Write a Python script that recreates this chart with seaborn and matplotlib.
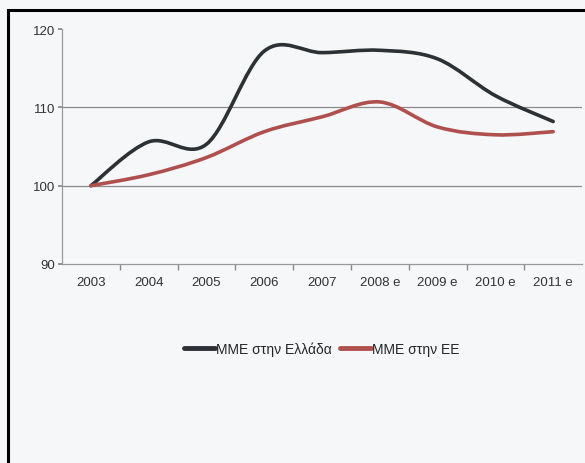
import matplotlib
matplotlib.use("Agg")
import matplotlib.pyplot as plt
import seaborn as sns
import pandas as pd
import numpy as np
from matplotlib.patches import Rectangle, PathPatch
from matplotlib.path import Path
from matplotlib.lines import Line2D

years = ["2003", "2004", "2005", "2006", "2007", "2008 e", "2009 e", "2010 e", "2011 e"]
greece = [100, 105.6, 105.3, 117.2, 117.0, 117.3, 116.2, 111.5, 108.2]
eu = [100, 101.4, 103.6, 106.9, 108.8, 110.7, 107.5, 106.5, 106.9]
series_names = ["ΜΜΕ στην Ελλάδα", "ΜΜΕ στην ΕΕ"]
colors = ["#2c3136", "#b0504e"]
yticks = [90, 100, 110, 120]

sns.set_theme(style="white")
plt.rcParams["font.family"] = ["Liberation Sans Narrow", "Liberation Sans", "DejaVu Sans"]

df = pd.DataFrame({
    "x": list(range(len(years))) * 2,
    "value": greece + eu,
    "series": [series_names[0]] * len(years) + [series_names[1]] * len(years),
})

bg = "#f6f7f9"
fig = plt.figure(figsize=(5.85, 4.64), dpi=100, facecolor=bg)
ax = fig.add_axes([0.106, 0.429, 0.889, 0.506])
ax.set_facecolor(bg)

sns.lineplot(data=df, x="x", y="value", hue="series",
             palette=colors, linewidth=2.4, ax=ax, legend=False)


def smooth_path(xy):
    # Excel-style smoothed line: Catmull-Rom converted to cubic Bezier segments
    pts = np.asarray(xy, dtype=float)
    verts = [pts[0]]
    codes = [Path.MOVETO]
    n = len(pts)
    for i in range(n - 1):
        p0 = pts[i - 1] if i > 0 else pts[i]
        p1 = pts[i]
        p2 = pts[i + 1]
        p3 = pts[i + 2] if i + 2 < n else pts[i + 1]
        c1 = p1 + (p2 - p0) / 6.0
        c2 = p2 - (p3 - p1) / 6.0
        verts += [c1, c2, p2]
        codes += [Path.CURVE4] * 3
    return Path(verts, codes)


for line in list(ax.get_lines()):
    xy = line.get_xydata()
    patch = PathPatch(smooth_path(xy), fill=False, edgecolor=line.get_color(),
                      linewidth=2.6, capstyle="round", joinstyle="round", zorder=3)
    ax.add_patch(patch)
    line.remove()

ax.set_xlim(-0.5, len(years) - 0.5)
ax.set_ylim(90, 120)
ax.set_yticks(yticks)
ax.set_yticklabels([str(v) for v in yticks])
ax.set_xticks(range(len(years)))
ax.set_xticklabels(years)
ax.set_xticks([i + 0.5 for i in range(len(years) - 1)], minor=True)
ax.tick_params(axis="x", which="major", length=0, pad=9, labelsize=9.5, colors="#333333")
ax.tick_params(axis="x", which="minor", length=4, color="#888888", bottom=True)
ax.tick_params(axis="y", length=3, color="#888888", left=True, labelsize=9.5, colors="#333333", pad=2)
for y in [100, 110]:
    ax.axhline(y, color="#8a8a8a", linewidth=0.9, zorder=0)
ax.set_xlabel("")
ax.set_ylabel("")
for s in ["top", "right"]:
    ax.spines[s].set_visible(False)
for s in ["left", "bottom"]:
    ax.spines[s].set_color("#999999")
    ax.spines[s].set_linewidth(0.9)

handles = [Line2D([], [], color=c, linewidth=3.5) for c in colors]
ax.legend(handles, series_names, loc="center", bbox_to_anchor=(0.5, -0.36), ncol=2,
          frameon=False, fontsize=10, handlelength=2.2, handletextpad=0.1, columnspacing=0.6)

fig.patches.append(Rectangle((0.014, -0.01), 1.0, 0.987, transform=fig.transFigure,
                             fill=False, edgecolor="black", linewidth=2.2))

fig.savefig("out.png", dpi=100, facecolor=bg)
